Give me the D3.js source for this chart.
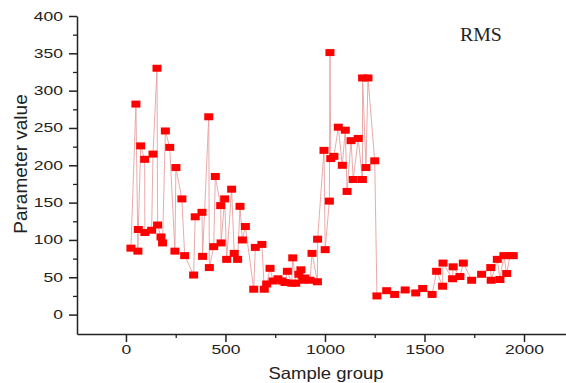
<!DOCTYPE html>
<html>
<head>
<meta charset="utf-8">
<script src="https://cdn.jsdelivr.net/npm/d3@7"></script>
<style>
  body { margin: 0; background: #fff; }
  svg { display: block; }
  .axis text { font-family: "Liberation Sans", Arial, sans-serif; fill: #222; }
  .axis path, .axis line { stroke: #222; }
</style>
</head>
<body>
<div id="chart"></div>
<script>
// sample index (x) and RMS value (y)
const sampleIdx = [
  25, 50, 60, 62, 74, 94, 95, 129, 136, 156, 159, 176, 184, 198, 220, 246, 251, 281, 295, 340,
  348, 382, 385, 416, 419, 441, 449, 476, 478, 496, 506, 531, 544, 561, 573, 585, 600, 642, 650, 683,
  695, 707, 724, 739, 764, 784, 799, 811, 833, 838, 853, 869, 879, 888, 899, 925, 935, 962, 963, 995,
  1001, 1022, 1025, 1029, 1045, 1067, 1087, 1102, 1111, 1131, 1142, 1167, 1188, 1189, 1206, 1216, 1250, 1261, 1310, 1350,
  1403, 1456, 1491, 1538, 1561, 1591, 1593, 1641, 1644, 1678, 1695, 1737, 1787, 1833, 1835, 1866, 1879, 1899, 1913, 1930,
  1946
];
const rmsValues = [
  89, 282, 85, 114, 226, 208, 110, 113, 215, 330, 120, 104, 96, 246, 224, 85, 197, 155, 79, 53,
  131, 137, 78, 265, 63, 91, 185, 146, 96, 155, 74, 168, 82, 74, 145, 100, 118, 34, 90, 94,
  34, 41, 62, 45, 48, 45, 43, 58, 42, 76, 42, 54, 60, 46, 49, 46, 82, 44, 101, 220,
  87, 152, 351, 209, 212, 251, 200, 247, 165, 233, 181, 236, 181, 317, 197, 317, 206, 25, 32, 27,
  33, 29, 35, 27, 58, 38, 69, 48, 64, 51, 69, 46, 54, 63, 46, 74, 47, 79, 55, 79,
  79
];
const xMajor = [0, 500, 1000, 1500, 2000];
const xMinor = [250, 750, 1250, 1750];
const yMajor = [0, 50, 100, 150, 200, 250, 300, 350, 400];
const yMinor = [25, 75, 125, 175, 225, 275, 325, 375];

const W = 566, H = 383;
const margin = { left: 77, right: 566, top: 16, bottom: 334 };

const svg = d3.select('#chart').append('svg')
  .attr('width', W)
  .attr('height', H);

const x = d3.scaleLinear().domain([-246, 2211]).range([margin.left, margin.right]);
const y = d3.scaleLinear().domain([-26, 400]).range([margin.bottom, margin.top]);

// stretch tick labels sideways like the source
function widen(sel, k) {
  sel.selectAll('text').each(function() {
    const t = d3.select(this);
    const tx = +t.attr('x') || 0;
    t.attr('x', 0).attr('transform', `translate(${tx},0) scale(${k},1)`);
  });
}

// minor ticks
svg.append('g').attr('class', 'axis')
  .attr('transform', `translate(${margin.left},0)`)
  .call(d3.axisLeft(y).tickValues(yMinor).tickSize(4).tickSizeOuter(0).tickFormat(''))
  .call(g => g.select('.domain').remove())
  .selectAll('line').attr('stroke-width', 1.3);
svg.append('g').attr('class', 'axis')
  .attr('transform', `translate(0,${margin.bottom})`)
  .call(d3.axisBottom(x).tickValues(xMinor).tickSize(4).tickSizeOuter(0).tickFormat(''))
  .call(g => g.select('.domain').remove())
  .selectAll('line').attr('stroke-width', 1.3);

// major axes
const yAxis = svg.append('g').attr('class', 'axis')
  .attr('transform', `translate(${margin.left},0)`)
  .call(d3.axisLeft(y).tickValues(yMajor).tickSize(8).tickPadding(6).tickSizeOuter(0).tickFormat(d3.format('d')));
yAxis.selectAll('path, line').attr('stroke-width', 1.5);
yAxis.selectAll('text').attr('font-size', 12.5);
widen(yAxis, 1.4);

const xAxis = svg.append('g').attr('class', 'axis')
  .attr('transform', `translate(0,${margin.bottom})`)
  .call(d3.axisBottom(x).tickValues(xMajor).tickSize(8).tickPadding(4).tickSizeOuter(0).tickFormat(d3.format('d')));
xAxis.selectAll('path, line').attr('stroke-width', 1.5);
xAxis.selectAll('text').attr('font-size', 12.5).attr('y', 11);
widen(xAxis, 1.4);

// axis titles
svg.append('text')
  .attr('transform', `translate(326,379) scale(1.12,1)`)
  .attr('text-anchor', 'middle')
  .attr('font-family', '"Liberation Sans", Arial, sans-serif')
  .attr('font-size', 16.5)
  .attr('fill', '#222')
  .text('Sample group');

svg.append('text')
  .attr('transform', 'translate(27,164) rotate(-90)')
  .attr('text-anchor', 'middle')
  .attr('font-family', '"Liberation Sans", Arial, sans-serif')
  .attr('font-size', 19)
  .attr('fill', '#222')
  .text('Parameter value');

svg.append('text')
  .attr('transform', 'translate(460,41) scale(1.1,1)')
  .attr('font-family', '"Liberation Serif", "Times New Roman", serif')
  .attr('font-size', 18)
  .attr('fill', '#222')
  .text('RMS');

// series
const pts = sampleIdx.map((s, i) => ({ s, v: rmsValues[i] }));

svg.append('path')
  .datum(pts)
  .attr('fill', 'none')
  .attr('stroke', '#e6a0a0')
  .attr('stroke-width', 0.9)
  .attr('d', d3.line().x(d => x(d.s)).y(d => y(d.v)));

svg.append('g').selectAll('rect')
  .data(pts)
  .enter()
  .append('rect')
  .attr('x', d => x(d.s) - 4.5)
  .attr('y', d => y(d.v) - 3.5)
  .attr('width', 9)
  .attr('height', 7)
  .attr('fill', '#ff0000');
</script>
</body>
</html>
